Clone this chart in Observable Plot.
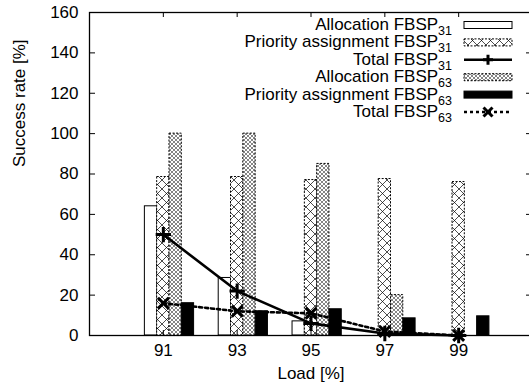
<!DOCTYPE html>
<html><head><meta charset="utf-8">
<script src="https://cdn.jsdelivr.net/npm/d3@7"></script>
<script src="https://cdn.jsdelivr.net/npm/@observablehq/plot@0.6"></script>
<style>
html,body{margin:0;padding:0;overflow:hidden;background:#fff;}
#chart{width:535px;}
#chart svg{display:block;max-width:none !important;width:535px !important;height:391px !important;}
</style></head><body>
<svg width="0" height="0" style="position:absolute">
<defs>
<pattern id="hatch31" patternUnits="userSpaceOnUse" width="9" height="9">
<rect width="9" height="9" fill="#fff"/>
<path d="M0,0L9,9M9,0L0,9" stroke="#000" stroke-width="0.7"/>
</pattern>
<pattern id="hatch63" patternUnits="userSpaceOnUse" width="4" height="4">
<rect width="4" height="4" fill="#fff"/>
<path d="M0,0L4,4M4,0L0,4" stroke="#666" stroke-width="0.8"/>
</pattern>
</defs></svg>
<div id="chart"></div>
<script>
// ---- data ----
const loads = [91, 93, 95, 97, 99];
const allocation31 = [64, 28.5, 7, 0, 0];
const priority31 = [78.5, 78.5, 77, 77.5, 76];
const total31 = [50, 22, 6, 1, 0];
const allocation63 = [100, 100, 85, 20, 0];
const priority63 = [16, 12, 13, 8.5, 9.5];
const total63 = [16, 12, 11, 2, 0];
const yTicks = [0, 20, 40, 60, 80, 100, 120, 140, 160];
const legendNames = ["Allocation FBSP", "Priority assignment FBSP", "Total FBSP", "Allocation FBSP", "Priority assignment FBSP", "Total FBSP"];
const legendSubs = ["31", "31", "31", "63", "63", "63"];

// ---- bar series (cluster slot order) ----
const barSeries = [
  {values: allocation31, slot: 0, fill: "#fff", dash: null},
  {values: priority31, slot: 1, fill: "url(#hatch31)", dash: "2,1.5"},
  {values: allocation63, slot: 2, fill: "url(#hatch63)", dash: "2,1.5"},
  {values: priority63, slot: 3, fill: "#000", dash: null}
];
const bw = 1 / 3; // bar width in load units (gap of 2 bars per cluster)
const barMarks = barSeries.map(s => {
  const rows = loads.map((l, i) => ({load: l, value: s.values[i]})).filter(d => d.value > 0);
  return Plot.rect(rows, {
    x1: d => d.load + (s.slot - 1) * bw - bw / 2,
    x2: d => d.load + (s.slot - 1) * bw + bw / 2,
    y1: d => 0,
    y2: d => d.value,
    fill: s.fill,
    stroke: "#000",
    strokeWidth: 1,
    strokeDasharray: s.dash
  });
});
const t31 = loads.map((l, i) => ({load: l, value: total31[i]}));
const t63 = loads.map((l, i) => ({load: l, value: total63[i]}));

const W = 535, H = 391, mL = 89, mR = 3, mT = 12, mB = 56;
const iw = W - mL - mR, ih = H - mT - mB;

const chart = Plot.plot({
  width: W, height: H,
  marginLeft: mL, marginRight: mR, marginTop: mT, marginBottom: mB,
  x: {type: "linear", domain: [89, 101]},
  y: {domain: [0, 160]},
  style: {fontFamily: "'Liberation Sans', Arial, sans-serif", fontSize: "17px", background: "#fff", color: "#000", maxWidth: "none"},
  marks: [
    ...barMarks,
    Plot.line(t31, {x: "load", y: "value", stroke: "#000", strokeWidth: 2.6}),
    Plot.dot(t31, {x: "load", y: "value", symbol: "plus", r: 5, stroke: "#000", strokeWidth: 3}),
    Plot.line(t63, {x: "load", y: "value", stroke: "#000", strokeWidth: 2.6, strokeDasharray: "3,3"}),
    Plot.dot(t63, {x: "load", y: "value", symbol: "times", r: 5, stroke: "#000", strokeWidth: 3}),
    Plot.tickY(yTicks, {y: d => d, insetRight: iw - 6, stroke: "#000"}),
    Plot.tickY(yTicks, {y: d => d, insetLeft: iw - 6, stroke: "#000"}),
    Plot.tickX(loads, {x: d => d, insetTop: ih - 5, stroke: "#000"}),
    Plot.tickX(loads, {x: d => d, insetBottom: ih - 5, stroke: "#000"}),
    Plot.frame({stroke: "#000", strokeWidth: 1.3}),
    Plot.axisY(yTicks, {tickSize: 0, tickPadding: 11, label: null, fontSize: 17}),
    Plot.axisX(loads, {tickSize: 0, tickPadding: 8, label: null, fontSize: 17, tickFormat: d => String(d)}),
    Plot.text(["Success rate [%]"], {frameAnchor: "left", text: d => d, rotate: -90, dx: -70, dy: -7, fontSize: 17}),
    Plot.text(["Load [%]"], {frameAnchor: "bottom", text: d => d, dy: 43, fontSize: 17})
  ]
});
document.getElementById("chart").appendChild(chart);

// ---- legend (inside plot area, top right) ----
const svg = d3.select(chart);
const lg = svg.append("g").attr("font-family", "'Liberation Sans', Arial, sans-serif");
const rowY = i => 25 + i * 17.4;
const textX = 452, sx0 = 464, sx1 = 512;
legendNames.forEach((name, i) => {
  const y = rowY(i);
  const t = lg.append("text").attr("x", textX).attr("y", y + 5).attr("text-anchor", "end").attr("font-size", 17).attr("fill", "#000");
  t.append("tspan").text(name);
  t.append("tspan").attr("dy", 5).attr("font-size", 12.5).text(legendSubs[i]);
});
const boxRow = (i, fill, dash) => lg.append("rect").attr("x", sx0).attr("y", rowY(i) - 3.5).attr("width", sx1 - sx0).attr("height", 7)
  .attr("fill", fill).attr("stroke", "#000").attr("stroke-width", 1).attr("stroke-dasharray", dash);
boxRow(0, "#fff", null);
boxRow(1, "url(#hatch31)", "2,1.5");
boxRow(3, "url(#hatch63)", "2,1.5");
boxRow(4, "#000", null);
lg.append("line").attr("x1", sx0).attr("x2", sx1).attr("y1", rowY(2)).attr("y2", rowY(2)).attr("stroke", "#000").attr("stroke-width", 2.6);
const cx = (sx0 + sx1) / 2;
lg.append("path").attr("d", `M${cx - 5},${rowY(2)}H${cx + 5}M${cx},${rowY(2) - 5}V${rowY(2) + 5}`).attr("stroke", "#000").attr("stroke-width", 3);
lg.append("line").attr("x1", sx0).attr("x2", sx1).attr("y1", rowY(5)).attr("y2", rowY(5)).attr("stroke", "#000").attr("stroke-width", 2.6).attr("stroke-dasharray", "3,3");
lg.append("path").attr("d", `M${cx - 4.5},${rowY(5) - 4.5}L${cx + 4.5},${rowY(5) + 4.5}M${cx + 4.5},${rowY(5) - 4.5}L${cx - 4.5},${rowY(5) + 4.5}`).attr("stroke", "#000").attr("stroke-width", 3);
</script>
</body></html>
